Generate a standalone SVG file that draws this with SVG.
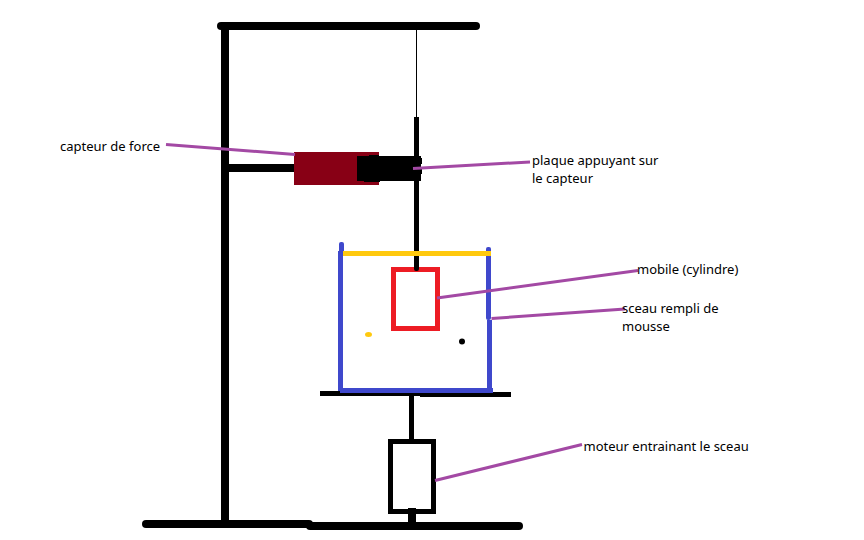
<svg xmlns="http://www.w3.org/2000/svg" width="864" height="540" viewBox="0 0 864 540">
<style>
.k{fill:#000}
.b{fill:#3f48cc}
.lead{stroke:#a349a4;stroke-width:3;fill:none}
text{font-family:"Noto Sans","Open Sans","DejaVu Sans",sans-serif;font-size:13px;fill:#000}
</style>
<rect width="864" height="540" fill="#fff"/>
<g id="support">
<rect class="k" x="217" y="22" width="263" height="8" rx="4"/>
<rect class="k" x="221" y="30" width="8" height="492"/>
<rect class="k" x="229" y="164" width="65" height="8"/>
<rect class="k" x="142" y="520" width="171" height="8" rx="4"/>
<rect class="k" x="306" y="522" width="217" height="8" rx="4"/>
</g>
<g id="fil"><rect class="k" x="416" y="30" width="1" height="87"/></g>
<g id="tige">
<rect class="k" x="414" y="117" width="5" height="154"/>
</g>
<g id="capteur-de-force">
<rect x="294" y="152" width="85" height="33" fill="#880015"/>
</g>
<g id="plaque">
<rect class="k" x="357" y="156" width="64" height="25"/>
<rect class="k" x="369" y="155" width="10" height="2"/>
<rect class="k" x="364" y="180" width="16" height="2"/>
<rect class="k" x="419" y="158" width="3" height="6"/>
<rect class="k" x="419" y="168" width="3" height="6"/>
</g>
<g id="sceau">
<rect class="b" x="338" y="251" width="5" height="142"/>
<rect class="b" x="339" y="242" width="5" height="12" rx="2"/>
<rect class="b" x="486" y="247" width="5" height="73" rx="2"/>
<rect class="b" x="487" y="320" width="5" height="73"/>
<rect class="k" x="320" y="391" width="100" height="5"/>
<rect class="k" x="420" y="392" width="91" height="5"/>
<rect class="b" x="340" y="388" width="153" height="5"/>
</g>
<g id="couvercle"><rect x="343" y="251" width="148" height="5" fill="#ffc90e"/></g>
<g id="mobile"><rect x="393.5" y="269.500" width="44" height="59" fill="none" stroke="#ed1c24" stroke-width="5"/>
<rect class="k" x="414" y="256" width="5" height="15" rx="2"/></g>
<g id="billes">
<ellipse cx="368.500" cy="334.500" rx="3.500" ry="2.500" fill="#ffc90e"/>
<circle class="k" cx="462" cy="341.500" r="3"/>
</g>
<g id="moteur">
<rect class="k" x="409" y="396" width="5" height="44"/>
<rect x="390.500" y="441.500" width="43" height="70" fill="none" stroke="#000" stroke-width="5"/>
<rect class="k" x="408" y="508" width="8" height="15"/>
</g>
<g id="connecteurs">
<path class="lead" d="M166 144.500 295 154.500"/>
<path class="lead" d="M413 168.500 530 162"/>
<path class="lead" d="M437 298 638 270.500"/>
<path class="lead" d="M491.500 318.500 625 309"/>
<path class="lead" d="M435 480.500 582 444.500"/>
</g>
<g id="labels">
<text x="60" y="151">capteur de force</text>
<text x="532" y="165">plaque appuyant sur</text>
<text x="532" y="183">le capteur</text>
<text x="637" y="274">mobile (cylindre)</text>
<text x="622" y="313">sceau rempli de</text>
<text x="622" y="331">mousse</text>
<text x="583.500" y="451">moteur entrainant le sceau</text>
</g>
</svg>
